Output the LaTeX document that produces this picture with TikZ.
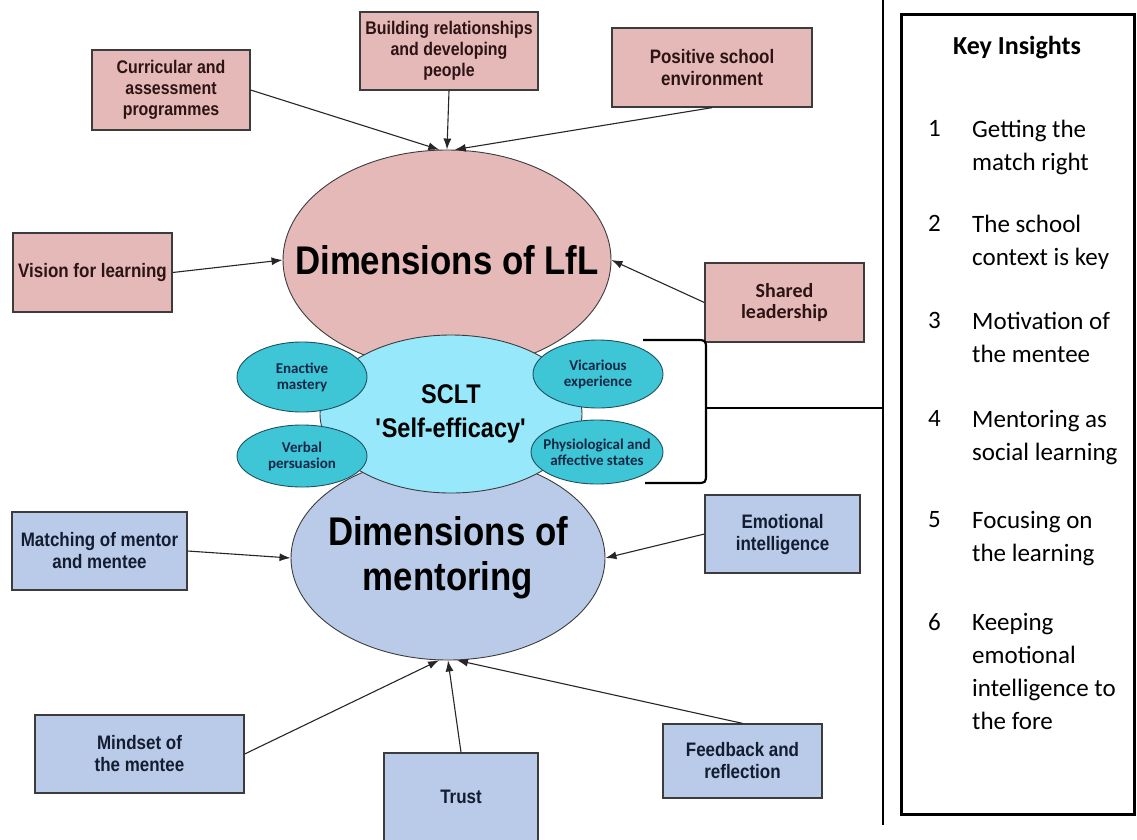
\documentclass[tikz,border=0pt]{standalone}
\usepackage{fontspec}
\usepackage{tikz}
\usetikzlibrary{shapes.geometric, arrows.meta, positioning}
\newfontfamily\diagfont[FakeStretch=0.87]{Liberation Sans}
\newfontfamily\calfont{Carlito}
\definecolor{LfLPink}{RGB}{229,185,184}
\definecolor{MentorBlue}{RGB}{185,203,232}
\definecolor{SCLTCyan}{RGB}{150,232,250}
\definecolor{FacetTeal}{RGB}{62,198,214}
\definecolor{FacetEdge}{RGB}{30,80,95}
\definecolor{EdgeGrey}{RGB}{60,60,60}
\definecolor{PinkText}{RGB}{45,20,20}
\definecolor{BlueText}{RGB}{20,28,50}
\definecolor{FacetText}{RGB}{20,40,70}

\begin{document}
\begin{tikzpicture}[
    x=1pt, y=-1pt,
    pinkbox/.style={rectangle, draw=EdgeGrey, fill=LfLPink, line width=1.3pt, inner sep=2pt,
                    align=center, text=PinkText, font=\diagfont\bfseries\fontsize{19.5}{22}\selectfont},
    bluebox/.style={pinkbox, fill=MentorBlue, text=BlueText},
    bigell/.style={ellipse, draw=EdgeGrey, line width=0.9pt, inner sep=0pt},
    bigtext/.style={inner sep=0pt, align=center, font=\diagfont\bfseries\fontsize{40}{45}\selectfont},
    scltell/.style={bigell, fill=SCLTCyan},
    sclttext/.style={bigtext, font=\diagfont\bfseries\fontsize{27}{34}\selectfont},
    facet/.style={ellipse, draw=FacetEdge, fill=FacetTeal, line width=0.9pt, inner sep=0pt},
    facettext/.style={inner sep=0pt, align=center, text=FacetText, font=\calfont\bfseries\fontsize{15}{16}\selectfont},
    arrow/.style={-{Latex[length=11pt,width=8pt]}, line width=1.1pt, draw=black!85},
    bracket/.style={line width=2.2pt, line join=round},
    sepline/.style={line width=2.4pt},
    num/.style={anchor=north west, inner sep=0pt, font=\calfont\fontsize{25}{33}\selectfont},
    insight/.style={anchor=north west, inner sep=0pt, align=left, font=\calfont\fontsize{25}{33}\selectfont}
]
\useasboundingbox (0,0) rectangle (1137,839);

% Dimensions of LfL
\node[bigell, fill=LfLPink, minimum width=328, minimum height=220] (lfl) at (447,260) {};
\node[bigtext] (lfltext) at (lfl.center) {Dimensions of LfL};

% Dimensions of mentoring
\node[bigell, fill=MentorBlue, minimum width=314, minimum height=204] (mentoring) at (448,558) {};
\node[bigtext] (mentoringtext) at (mentoring.center) {Dimensions of\\mentoring};

% Self-efficacy and its sources
\node[scltell, minimum width=262, minimum height=158] (sclt) at (451,414) {};
\node[sclttext] (sclttxt) at (sclt.center) {SCLT\\\textquotesingle Self-efficacy\textquotesingle};
\node[facet, minimum width=130, minimum height=70] (enactive) at (302,377) {};
\node[facettext] at (enactive.center) {Enactive\\mastery};
\node[facet, minimum width=130, minimum height=62] (verbal) at (302,456) {};
\node[facettext] at (verbal.center) {Verbal\\persuasion};
\node[facet, minimum width=130, minimum height=68] (vicarious) at (598,374) {};
\node[facettext] at (vicarious.center) {Vicarious\\experience};
\node[facet, minimum width=132, minimum height=64] (physio) at (597,452) {};
\node[facettext] at (physio.center) {Physiological and\\affective states};

% LfL boxes
\node[pinkbox, minimum width=158, minimum height=80, font=\diagfont\bfseries\fontsize{18.3}{21}\selectfont] (curric) at (171,90) {Curricular and\\assessment\\programmes};
\node[pinkbox, minimum width=178, minimum height=78, font=\diagfont\bfseries\fontsize{18.3}{21}\selectfont] (building) at (449,51) {Building relationships\\and developing\\people};
\node[pinkbox, minimum width=200, minimum height=79] (positive) at (712,67.5) {Positive school\\environment};
\node[pinkbox, minimum width=159, minimum height=79] (vision) at (92.5,272.5) {Vision for learning};
\node[pinkbox, minimum width=159, minimum height=79, font=\calfont\bfseries\fontsize{20}{21}\selectfont] (shared) at (784.5,302.5) {Shared\\leadership};

% Mentoring boxes
\node[bluebox, minimum width=175, minimum height=78] (matching) at (99.5,551) {Matching of mentor\\and mentee};
\node[bluebox, minimum width=155, minimum height=78] (emotional) at (782.5,534) {Emotional\\intelligence};
\node[bluebox, minimum width=209, minimum height=78] (mindset) at (139.5,754) {Mindset of\\the mentee};
\node[bluebox, minimum width=154, minimum height=88] (trust) at (461,797) {Trust};
\node[bluebox, minimum width=159, minimum height=74] (feedback) at (742.5,761) {Feedback and\\reflection};

% Arrows
\draw[arrow] (curric.east) -- (lfl.94);
\draw[arrow] (building.south) -- (lfl.north);
\draw[arrow] (positive.south) -- (lfl.86);
\draw[arrow] (vision.east) -- (lfl.west);
\draw[arrow] (shared.west) -- (lfl.east);

\draw[arrow] (matching.east) -- (mentoring.west);
\draw[arrow] (emotional.west) -- (mentoring.east);
\draw[arrow] (mindset.east) -- (mentoring.265);
\draw[arrow] (trust.north) -- (mentoring.south);
\draw[arrow] (feedback.north) -- (mentoring.275);

% Bracket and separator
\coordinate (brtop) at (643,340);
\coordinate (brbot) at (645,483);
\coordinate (brmid) at (706,408);
\coordinate (sepmid) at (883,408);
\coordinate (septop) at (883,0);
\coordinate (sepbot) at (883,825);
\draw[bracket] (brtop) -- ++(53,0) .. controls +(10,0) and +(0,-10) .. ++(10,10)
    -- ++(0,123) .. controls +(0,10) and +(10,0) .. ++(-10,10) -- (brbot);
\draw[sepline] (brmid) -- (sepmid);
\draw[sepline] (septop) -- (sepbot);

% Key insights
\node[draw, line width=2.6pt, minimum width=233, minimum height=800, inner sep=0pt, anchor=north west] (keybox) at (900,13) {};
\node[font=\calfont\bfseries\fontsize{26}{30}\selectfont] (keytitle) at (1017,48) {Key Insights};
\node[num] (n1) at (928,120) {1};
\node[insight] (k1) at (972,120) {Getting the\\match right};
\node[num] (n2) at (928,215) {2};
\node[insight] (k2) at (972,215) {The school\\context is key};
\node[num] (n3) at (928,312) {3};
\node[insight] (k3) at (972,312) {Motivation of\\the mentee};
\node[num] (n4) at (928,410) {4};
\node[insight] (k4) at (972,410) {Mentoring as\\social learning};
\node[num] (n5) at (928,511) {5};
\node[insight] (k5) at (972,511) {Focusing on\\the learning};
\node[num] (n6) at (928,613) {6};
\node[insight] (k6) at (972,613) {Keeping\\emotional\\intelligence to\\the fore};

\end{tikzpicture}
\end{document}
